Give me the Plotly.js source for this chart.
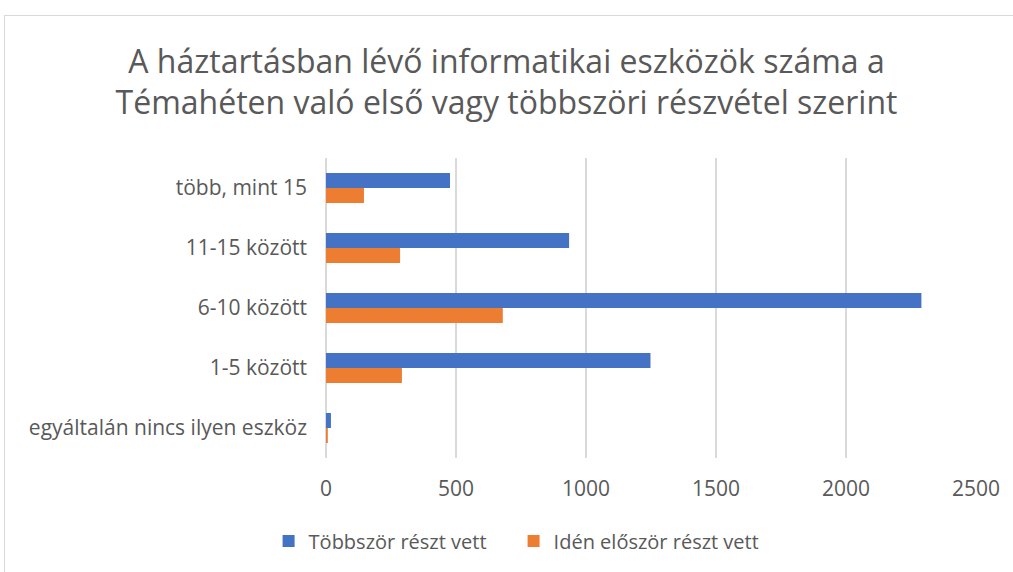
<!DOCTYPE html>
<html><head><meta charset="utf-8">
<script src="https://cdn.plot.ly/plotly-3.0.1.min.js"></script>
<style>html,body{margin:0;padding:0;background:#fff;}#wrap{position:relative;width:1013px;height:572px;}#chart{width:1013px;height:572px;}#frame{position:absolute;left:4px;top:15px;width:1020px;height:580px;border:1px solid #d9d9d9;pointer-events:none;}</style>
</head><body><div id="wrap"><div id="chart"></div><div id="frame"></div></div>
<script>
var categories = ["több, mint 15", "11-15 között", "6-10 között", "1-5 között", "egyáltalán nincs ilyen eszköz"];
var tobbszor = [477, 935, 2290, 1248, 19];
var iden = [146, 285, 680, 292, 7];
var seriesNames = ["Többször részt vett", "Idén először részt vett"];
var xTicks = [0, 500, 1000, 1500, 2000, 2500];
var font = "Open Sans, Noto Sans, sans-serif";
var data = [
  {type:"bar", orientation:"h", name:seriesNames[0], y:categories, x:tobbszor, marker:{color:"#4472c4"}},
  {type:"bar", orientation:"h", name:seriesNames[1], y:categories, x:iden, marker:{color:"#ed7d31"}}
];
var layout = {
  width:1013, height:572,
  margin:{l:326, r:37, t:158, b:114},
  paper_bgcolor:"#fff", plot_bgcolor:"#fff",
  font:{family:font, color:"#595959", size:21},
  title:{text:"A háztartásban lévő informatikai eszközök száma a<br>Témahéten való első vagy többszöri részvétel szerint", x:0.5, xanchor:"center", y:0.873, yanchor:"top", font:{size:32, color:"#595959", family:font}},
  barmode:"group", bargap:0.5, bargroupgap:0,
  xaxis:{range:[0,2500], tickvals:xTicks, showgrid:true, gridcolor:"#d9d9d9", gridwidth:2, zeroline:true, zerolinecolor:"#d9d9d9", zerolinewidth:2, showline:false, ticks:"", ticklabelstandoff:16, tickfont:{size:21}},
  yaxis:{autorange:"reversed", showgrid:false, showline:false, ticks:"", ticklabelstandoff:18, tickfont:{size:21}},
  showlegend:true,
  legend:{orientation:"h", xref:"container", yref:"container", x:0.507, xanchor:"center", y:0.054, yanchor:"middle", font:{size:20}, traceorder:"normal", itemwidth:30, entrywidth:200}
};
Plotly.newPlot("chart", data, layout, {displayModeBar:false, staticPlot:true});
</script></body></html>
